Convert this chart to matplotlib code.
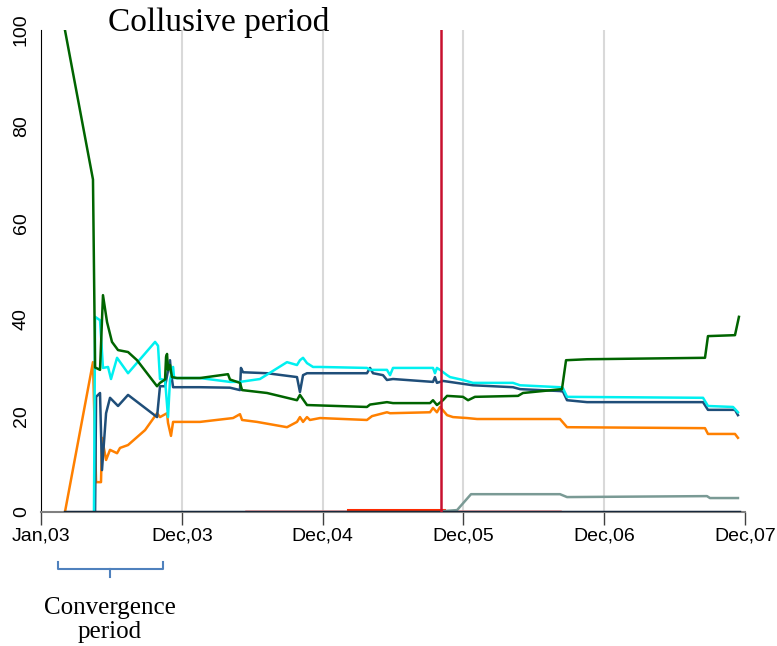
import matplotlib.pyplot as plt
from matplotlib.lines import Line2D

# Market shares (%) over time; x is in tick units (0 = Jan,03, 1 = Dec,03, ...)
tick_labels = ['Jan,03', 'Dec,03', 'Dec,04', 'Dec,05', 'Dec,06', 'Dec,07']

green_t = [0.170, 0.369, 0.384, 0.419, 0.440, 0.469, 0.504, 0.547, 0.618, 0.682, 0.824, 0.845,
           0.881, 0.888, 0.895, 0.902, 0.916, 0.930, 0.966, 1.129, 1.328, 1.342, 1.413, 1.428,
           1.605, 1.790, 1.818, 1.839, 1.889, 2.315, 2.337, 2.457, 2.500, 2.763, 2.784, 2.812,
           2.855, 2.884, 2.997, 3.033, 3.082, 3.388, 3.423, 3.700, 3.729, 3.878, 4.716, 4.737,
           4.929, 4.957]
green_v = [100, 69, 30, 29.5, 45, 39.4, 35.3, 33.6, 33.2, 31.5, 26.1, 26.8,
           27.5, 32.2, 32.8, 29.5, 30.5, 28, 27.8, 27.8, 28.6, 27.5, 26.8, 25.3,
           24.7, 23.4, 23.2, 24.3, 22.2, 21.8, 22.3, 22.8, 22.6, 22.6, 23.2, 22.2,
           23.2, 24.1, 23.9, 23.2, 23.9, 24.1, 24.7, 25.5, 31.5, 31.7, 32.0, 36.5,
           36.7, 40.5]

cyan_t = [0.376, 0.384, 0.419, 0.440, 0.476, 0.497, 0.540, 0.618, 0.810, 0.831, 0.845, 0.881,
          0.902, 0.916, 0.938, 0.945, 1.129, 1.342, 1.413, 1.555, 1.747, 1.818, 1.839, 1.861,
          1.889, 1.932, 1.982, 2.315, 2.337, 2.457, 2.479, 2.500, 2.784, 2.798, 2.812, 2.834,
          2.884, 2.905, 2.997, 3.068, 3.352, 3.402, 3.686, 3.707, 3.736, 4.702, 4.737, 4.915,
          4.950]
cyan_v = [0, 40.5, 39.8, 29.9, 30.1, 27.6, 32.0, 28.8, 35.3, 34.5, 27.6, 27.4,
          19.7, 27.4, 30.1, 27.8, 27.8, 27.0, 27.0, 27.6, 31.1, 30.5, 31.5, 32.0,
          30.9, 30.1, 30.1, 29.9, 29.5, 29.5, 28.4, 29.9, 29.9, 28.8, 29.9, 29.5,
          28.4, 28.0, 27.4, 26.8, 26.8, 26.3, 25.9, 25.7, 23.9, 23.7, 22.0, 21.8,
          20.7]

navy_t = [0.384, 0.391, 0.419, 0.433, 0.462, 0.490, 0.547, 0.618, 0.824, 0.845, 0.881, 0.916,
          0.923, 0.938, 1.129, 1.342, 1.413, 1.420, 1.435, 1.605, 1.818, 1.839, 1.861, 1.889,
          2.315, 2.337, 2.358, 2.429, 2.457, 2.500, 2.784, 2.798, 2.812, 2.855, 3.068, 3.352,
          3.402, 3.686, 3.707, 3.736, 3.878, 4.702, 4.737, 4.929, 4.950]
navy_v = [0, 23.9, 24.7, 8.7, 20.5, 23.7, 22.0, 24.3, 19.7, 26.1, 26.1, 31.5,
          29.0, 25.9, 25.9, 25.8, 25.3, 29.9, 29.0, 28.8, 28.0, 24.9, 28.4, 28.8,
          28.8, 29.9, 28.8, 28.4, 27.4, 27.6, 27.0, 28.0, 26.8, 27.2, 26.3, 25.9,
          25.5, 25.1, 25.0, 23.2, 22.8, 22.8, 21.2, 21.2, 20.1]

orange_t = [0.170, 0.369, 0.391, 0.426, 0.433, 0.462, 0.490, 0.540, 0.561, 0.618, 0.739, 0.824,
            0.845, 0.895, 0.902, 0.923, 0.938, 1.129, 1.364, 1.413, 1.428, 1.534, 1.747, 1.818,
            1.839, 1.861, 1.889, 1.910, 1.982, 2.315, 2.351, 2.457, 2.479, 2.763, 2.784, 2.812,
            2.834, 2.884, 2.926, 3.026, 3.097, 3.686, 3.736, 4.716, 4.737, 4.929, 4.950]
orange_v = [0, 31.1, 6.2, 6.2, 15.4, 10.8, 12.9, 12.2, 13.3, 13.9, 17.0, 20.5,
            19.7, 20.5, 18.5, 15.8, 18.7, 18.7, 19.5, 20.3, 19.1, 18.7, 17.6, 18.7,
            19.7, 18.7, 19.7, 19.1, 19.5, 19.1, 19.9, 20.7, 20.5, 20.7, 21.6, 20.7,
            21.8, 20.1, 19.7, 19.5, 19.3, 19.3, 17.6, 17.4, 16.2, 16.2, 15.4]

gray_t = [2.862, 2.955, 3.054, 3.686, 3.736, 4.730, 4.751, 4.950]
gray_v = [0.2, 0.4, 3.7, 3.7, 3.1, 3.3, 2.9, 2.9]

pink_t = [1.456, 3.686]
pink_v = [0.3, 0.3]
red_t = [2.180, 2.862]
red_v = [0.5, 0.5]

zero_t = [0.170, 4.957]
zero_v = [0, 0]

cartel_break = 2.841

fig = plt.figure(figsize=(7.77, 6.46), dpi=100)
ax = fig.add_axes([0.0528, 0.2074, 0.906, 0.746])

for g in range(1, 5):
    ax.axvline(g, color='#d9d9d9', lw=1.5, zorder=0)

ax.plot(pink_t, pink_v, color='#ff9f9f', lw=1.8)
ax.plot(red_t, red_v, color='#ff2a00', lw=2.2)
ax.plot(gray_t, gray_v, color='#7a9a95', lw=1.8)
ax.plot(zero_t, zero_v, color='#17283b', lw=2.5, zorder=3)
ax.plot(orange_t, orange_v, color='#ff8000', lw=1.8)
ax.plot(navy_t, navy_v, color='#1f4e79', lw=1.8)
ax.plot(cyan_t, cyan_v, color='#00f0f0', lw=1.8)
ax.plot(green_t, green_v, color='#006400', lw=1.8)

ax.axvline(cartel_break, color='#c8102e', lw=1.8, zorder=4)

ax.set_xlim(0, 5)
ax.set_ylim(0, 100)
ax.set_xticks(range(6))
ax.set_xticklabels(tick_labels)
ax.set_yticks([0, 20, 40, 60, 80, 100])
ax.tick_params(axis='x', direction='out', length=9, width=1, color='#404040',
               labelsize=14, pad=2)
ax.tick_params(axis='y', length=0, labelsize=14, pad=8)
for lab in ax.get_yticklabels():
    lab.set_rotation(90)
    lab.set_va('center')
for lab in ax.get_xticklabels() + ax.get_yticklabels():
    lab.set_family('Liberation Sans')

ax.spines['top'].set_visible(False)
ax.spines['right'].set_visible(False)
ax.spines['left'].set_color('#000000')
ax.spines['bottom'].set_color('#808080')
ax.spines['bottom'].set_linewidth(1.5)

fig.text(108 / 777, 1 - 22 / 646, 'Collusive period', family='Liberation Serif',
         fontsize=24, ha='left', va='center')
fig.text(110 / 777, 1 - 620 / 646, 'Convergence\nperiod', family='Liberation Serif',
         fontsize=18, ha='center', va='center', linespacing=1.1)

# bracket under the first months
W, H = 777, 646
bx = [58, 58, 163, 163]
by = [562, 569, 569, 562]
fig.add_artist(Line2D([x / W for x in bx], [1 - y / H for y in by], color='#4f81bd', lw=1.5))
fig.add_artist(Line2D([110 / W, 110 / W], [1 - 569 / H, 1 - 577 / H], color='#4f81bd', lw=1.5))

fig.savefig('out.png', dpi=100)
